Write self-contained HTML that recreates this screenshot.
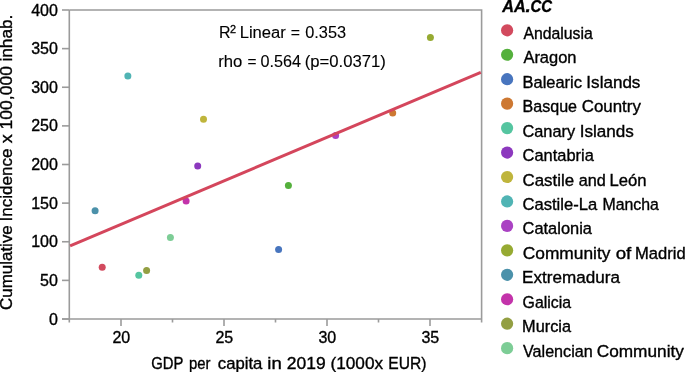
<!DOCTYPE html>
<html><head><meta charset="utf-8"><style>
html,body{margin:0;padding:0;background:#fff;overflow:hidden}
svg{display:block;will-change:transform}
text{font-family:"Liberation Sans",sans-serif;fill:#000;stroke:#000;stroke-width:0.35px}
.t{font-size:16px}
.a{font-size:16px;stroke-width:0.12px}
.ax{font-size:16.3px}
.lg{font-size:16.3px}
.lt{font-size:16px;font-weight:bold;font-style:italic}
</style></head><body>
<svg width="685" height="372" viewBox="0 0 685 372">
<rect x="0" y="0" width="685" height="372" fill="#fff"/>
<path d="M69.3 10.0H481.6V322.5M69.3 10.0V322.5M62.0 319.0H481.6" fill="none" stroke="#9b9b9b" stroke-width="1.6"/>
<path d="M62.0 319.00H69.3" stroke="#9b9b9b" stroke-width="1.6"/>
<path d="M62.0 280.38H69.3" stroke="#9b9b9b" stroke-width="1.6"/>
<path d="M62.0 241.75H69.3" stroke="#9b9b9b" stroke-width="1.6"/>
<path d="M62.0 203.12H69.3" stroke="#9b9b9b" stroke-width="1.6"/>
<path d="M62.0 164.50H69.3" stroke="#9b9b9b" stroke-width="1.6"/>
<path d="M62.0 125.88H69.3" stroke="#9b9b9b" stroke-width="1.6"/>
<path d="M62.0 87.25H69.3" stroke="#9b9b9b" stroke-width="1.6"/>
<path d="M62.0 48.62H69.3" stroke="#9b9b9b" stroke-width="1.6"/>
<path d="M62.0 10.00H69.3" stroke="#9b9b9b" stroke-width="1.6"/>
<path d="M121.00 319.0V326.0" stroke="#9b9b9b" stroke-width="1.6"/>
<path d="M224.00 319.0V326.0" stroke="#9b9b9b" stroke-width="1.6"/>
<path d="M327.00 319.0V326.0" stroke="#9b9b9b" stroke-width="1.6"/>
<path d="M430.00 319.0V326.0" stroke="#9b9b9b" stroke-width="1.6"/>
<path d="M172.50 319.0V322.5" stroke="#9b9b9b" stroke-width="1.6"/>
<path d="M275.50 319.0V322.5" stroke="#9b9b9b" stroke-width="1.6"/>
<path d="M378.50 319.0V322.5" stroke="#9b9b9b" stroke-width="1.6"/>
<text x="57.9" y="324.60" text-anchor="end" class="t">0</text>
<text x="57.9" y="285.98" text-anchor="end" class="t">50</text>
<text x="57.9" y="247.35" text-anchor="end" class="t">100</text>
<text x="57.9" y="208.72" text-anchor="end" class="t">150</text>
<text x="57.9" y="170.10" text-anchor="end" class="t">200</text>
<text x="57.9" y="131.47" text-anchor="end" class="t">250</text>
<text x="57.9" y="92.85" text-anchor="end" class="t">300</text>
<text x="57.9" y="54.23" text-anchor="end" class="t">350</text>
<text x="57.9" y="15.60" text-anchor="end" class="t">400</text>
<text x="121.30" y="342.5" text-anchor="middle" class="t">20</text>
<text x="224.30" y="342.5" text-anchor="middle" class="t">25</text>
<text x="327.30" y="342.5" text-anchor="middle" class="t">30</text>
<text x="430.30" y="342.5" text-anchor="middle" class="t">35</text>
<circle cx="102.2" cy="267.3" r="3.5" fill="#d24a5e"/>
<circle cx="288.4" cy="185.5" r="3.5" fill="#54b03c"/>
<circle cx="278.6" cy="249.5" r="3.5" fill="#4875be"/>
<circle cx="392.7" cy="113.0" r="3.5" fill="#cd7832"/>
<circle cx="138.8" cy="275.3" r="3.5" fill="#55c5a0"/>
<circle cx="197.7" cy="166.0" r="3.5" fill="#8c38be"/>
<circle cx="203.5" cy="119.3" r="3.5" fill="#bfb53c"/>
<circle cx="127.85" cy="76.1" r="3.5" fill="#50b4b4"/>
<circle cx="335.6" cy="135.6" r="3.5" fill="#aa42c3"/>
<circle cx="430.4" cy="37.5" r="3.5" fill="#96aa32"/>
<circle cx="95.1" cy="210.8" r="3.5" fill="#4b91aa"/>
<circle cx="186.1" cy="200.9" r="3.5" fill="#c333aa"/>
<circle cx="146.6" cy="270.6" r="3.5" fill="#939f42"/>
<circle cx="170.4" cy="237.5" r="3.5" fill="#7dcd96"/>
<path d="M70.1 245.8L480.8 72.3" stroke="#d4465c" stroke-width="3"/>
<text x="218.92" y="37.75" class="a" textLength="11.55" lengthAdjust="spacingAndGlyphs">R</text>
<text x="239.67" y="37.75" class="a" textLength="46.14" lengthAdjust="spacingAndGlyphs">Linear</text>
<text x="290.67" y="37.75" class="a" textLength="9.23" lengthAdjust="spacingAndGlyphs">=</text>
<text x="305.21" y="37.75" class="a" textLength="40.88" lengthAdjust="spacingAndGlyphs">0.353</text>
<text x="230.06" y="32.80" class="a" style="font-size:11px;stroke-width:0.3px" textLength="6.05" lengthAdjust="spacingAndGlyphs">2</text>
<text x="218.30" y="66.80" class="a" textLength="24.10" lengthAdjust="spacingAndGlyphs">rho</text>
<text x="247.58" y="66.80" class="a" textLength="8.99" lengthAdjust="spacingAndGlyphs">=</text>
<text x="260.51" y="66.80" class="a" textLength="40.51" lengthAdjust="spacingAndGlyphs">0.564</text>
<text x="304.70" y="66.80" class="a" textLength="81.08" lengthAdjust="spacingAndGlyphs">(p=0.0371)</text>
<text x="151.26" y="369.20" class="ax" textLength="32.14" lengthAdjust="spacingAndGlyphs">GDP</text>
<text x="189.01" y="369.20" class="ax" textLength="21.49" lengthAdjust="spacingAndGlyphs">per</text>
<text x="217.83" y="369.20" class="ax" textLength="44.50" lengthAdjust="spacingAndGlyphs">capita</text>
<text x="267.39" y="369.20" class="ax" textLength="14.46" lengthAdjust="spacingAndGlyphs">in</text>
<text x="286.83" y="369.20" class="ax" textLength="38.88" lengthAdjust="spacingAndGlyphs">2019</text>
<text x="330.47" y="369.20" class="ax" textLength="52.60" lengthAdjust="spacingAndGlyphs">(1000x</text>
<text x="388.25" y="369.20" class="ax" textLength="38.18" lengthAdjust="spacingAndGlyphs">EUR)</text>
<text transform="rotate(-90)" x="-310.05" y="12.40" class="ax" textLength="84.86" lengthAdjust="spacingAndGlyphs">Cumulative</text>
<text transform="rotate(-90)" x="-221.43" y="12.40" class="ax" textLength="72.85" lengthAdjust="spacingAndGlyphs">Incidence</text>
<text transform="rotate(-90)" x="-143.28" y="12.40" class="ax" textLength="8.96" lengthAdjust="spacingAndGlyphs">x</text>
<text transform="rotate(-90)" x="-129.43" y="12.40" class="ax" textLength="63.36" lengthAdjust="spacingAndGlyphs">100,000</text>
<text transform="rotate(-90)" x="-61.53" y="12.40" class="ax" textLength="46.84" lengthAdjust="spacingAndGlyphs">inhab.</text>
<text x="502.24" y="11.60" class="lt" textLength="23.43" lengthAdjust="spacingAndGlyphs">AA</text>
<text x="525.52" y="11.60" class="lt" textLength="5.25" lengthAdjust="spacingAndGlyphs">.</text>
<text x="530.50" y="11.60" class="lt" textLength="21.63" lengthAdjust="spacingAndGlyphs">CC</text>
<text x="523.40" y="38.80" class="lg" textLength="69.44" lengthAdjust="spacingAndGlyphs">Andalusia</text>
<text x="523.40" y="63.25" class="lg" textLength="53.13" lengthAdjust="spacingAndGlyphs">Aragon</text>
<text x="522.48" y="87.70" class="lg" textLength="59.55" lengthAdjust="spacingAndGlyphs">Balearic</text>
<text x="586.36" y="87.70" class="lg" textLength="54.05" lengthAdjust="spacingAndGlyphs">Islands</text>
<text x="522.51" y="112.15" class="lg" textLength="54.57" lengthAdjust="spacingAndGlyphs">Basque</text>
<text x="581.76" y="112.15" class="lg" textLength="59.14" lengthAdjust="spacingAndGlyphs">Country</text>
<text x="522.48" y="136.60" class="lg" textLength="52.72" lengthAdjust="spacingAndGlyphs">Canary</text>
<text x="579.76" y="136.60" class="lg" textLength="54.15" lengthAdjust="spacingAndGlyphs">Islands</text>
<text x="522.58" y="161.05" class="lg" textLength="71.26" lengthAdjust="spacingAndGlyphs">Cantabria</text>
<text x="522.46" y="185.50" class="lg" textLength="51.66" lengthAdjust="spacingAndGlyphs">Castile</text>
<text x="578.65" y="185.50" class="lg" textLength="27.06" lengthAdjust="spacingAndGlyphs">and</text>
<text x="609.57" y="185.50" class="lg" textLength="37.07" lengthAdjust="spacingAndGlyphs">León</text>
<text x="522.47" y="209.95" class="lg" textLength="74.77" lengthAdjust="spacingAndGlyphs">Castile-La</text>
<text x="602.53" y="209.95" class="lg" textLength="56.41" lengthAdjust="spacingAndGlyphs">Mancha</text>
<text x="522.58" y="234.40" class="lg" textLength="69.36" lengthAdjust="spacingAndGlyphs">Catalonia</text>
<text x="522.73" y="258.85" class="lg" textLength="87.67" lengthAdjust="spacingAndGlyphs">Community</text>
<text x="615.65" y="258.85" class="lg" textLength="15.61" lengthAdjust="spacingAndGlyphs">of</text>
<text x="635.07" y="258.85" class="lg" textLength="50.66" lengthAdjust="spacingAndGlyphs">Madrid</text>
<text x="522.03" y="283.30" class="lg" textLength="97.90" lengthAdjust="spacingAndGlyphs">Extremadura</text>
<text x="522.61" y="307.75" class="lg" textLength="48.43" lengthAdjust="spacingAndGlyphs">Galicia</text>
<text x="522.10" y="332.20" class="lg" textLength="48.94" lengthAdjust="spacingAndGlyphs">Murcia</text>
<text x="523.00" y="356.65" class="lg" textLength="69.71" lengthAdjust="spacingAndGlyphs">Valencian</text>
<text x="596.74" y="356.65" class="lg" textLength="87.16" lengthAdjust="spacingAndGlyphs">Community</text>
<circle cx="507.1" cy="30.30" r="6.1" fill="#d24a5e"/>
<circle cx="507.1" cy="54.75" r="6.1" fill="#54b03c"/>
<circle cx="507.1" cy="79.20" r="6.1" fill="#4875be"/>
<circle cx="507.1" cy="103.65" r="6.1" fill="#cd7832"/>
<circle cx="507.1" cy="128.10" r="6.1" fill="#55c5a0"/>
<circle cx="507.1" cy="152.55" r="6.1" fill="#8c38be"/>
<circle cx="507.1" cy="177.00" r="6.1" fill="#bfb53c"/>
<circle cx="507.1" cy="201.45" r="6.1" fill="#50b4b4"/>
<circle cx="507.1" cy="225.90" r="6.1" fill="#aa42c3"/>
<circle cx="507.1" cy="250.35" r="6.1" fill="#96aa32"/>
<circle cx="507.1" cy="274.80" r="6.1" fill="#4b91aa"/>
<circle cx="507.1" cy="299.25" r="6.1" fill="#c333aa"/>
<circle cx="507.1" cy="323.70" r="6.1" fill="#939f42"/>
<circle cx="507.1" cy="348.15" r="6.1" fill="#7dcd96"/>
</svg>
</body></html>
